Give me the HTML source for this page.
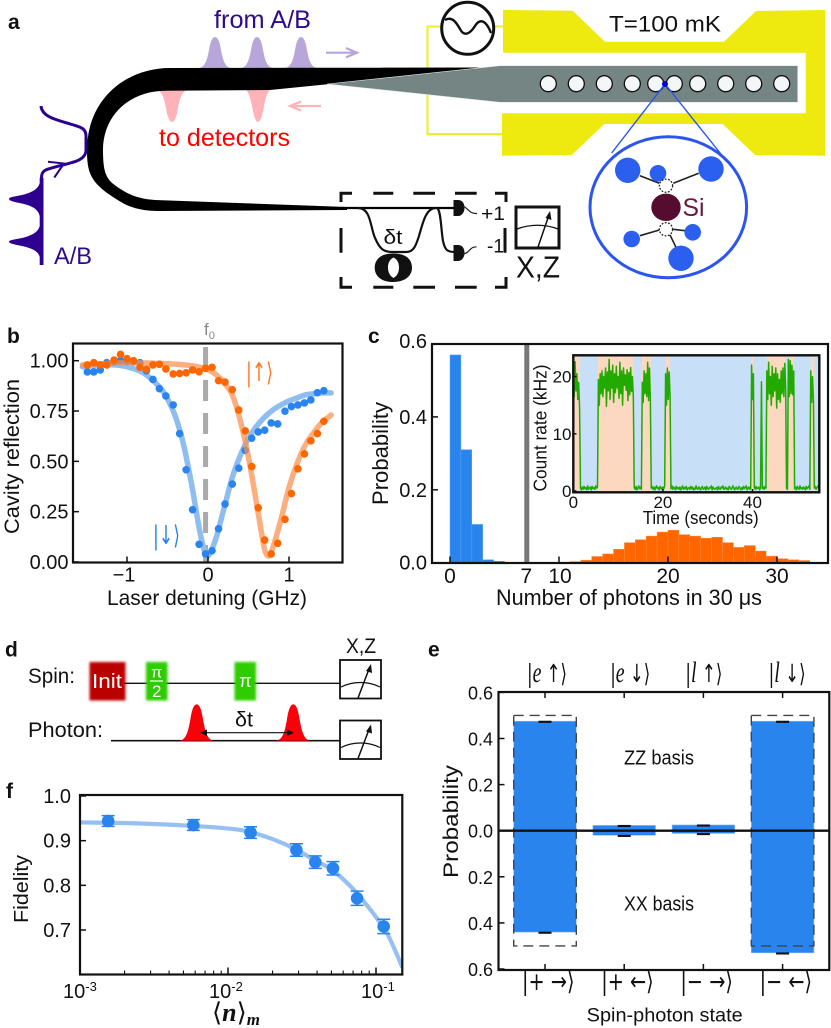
<!DOCTYPE html>
<html>
<head>
<meta charset="utf-8">
<title>Spin-photon figure</title>
<style>
html,body{margin:0;padding:0;background:#fff}
svg{display:block}
text{font-family:"Liberation Sans","DejaVu Sans",sans-serif;fill:#111}
.pl{font-weight:bold;font-size:21px}
.ket{font-family:"DejaVu Sans",sans-serif}
</style>
</head>
<body>
<svg id="fig" xmlns="http://www.w3.org/2000/svg" width="831" height="1028" viewBox="0 0 831 1028">
<defs>
<filter id="glow" x="-30%" y="-30%" width="160%" height="160%"><feGaussianBlur stdDeviation="1.2"/></filter>
<clipPath id="clipB"><rect x="73" y="344" width="269" height="218"/></clipPath>
<clipPath id="clipF"><rect x="80" y="795" width="322" height="179"/></clipPath>
<clipPath id="clipI"><rect x="573.3" y="355.3" width="246" height="137"/></clipPath>
</defs>

<!-- PANEL A -->
<g id="panel-a">
<text class="pl" x="8" y="29">a</text>
<polygon fill="#eeea10" points="503,10 572.7,10.7 605,41.7 724,41.7 756,11 825,10 825,155.7 755,155 722.7,124 604.3,124 571.7,155 502,155.7 502,113.3 805.7,113.3 805.7,52.7 503,52.7"/>
<path d="M503,26.5 H427.5 V134 H502" fill="none" stroke="#eeee22" stroke-width="2"/>
<circle cx="467.7" cy="28.3" r="26" fill="#fff" stroke="#111" stroke-width="3"/>
<path d="M445,20 C452,16 456,22 460,29 C464,37 470,34 475,26 C480,18 486,20 491,33" fill="none" stroke="#111" stroke-width="2.4"/>
<path transform="translate(215,68)" fill="#b7a6d9" d="M-17,0 C-10,0 -8,-8 -6,-18 C-4.5,-27 -2.5,-31 0,-31 C2.5,-31 4.5,-27 6,-18 C8,-8 10,0 17,0Z"/>
<path transform="translate(257,68)" fill="#b7a6d9" d="M-17,0 C-10,0 -8,-8 -6,-18 C-4.5,-27 -2.5,-31 0,-31 C2.5,-31 4.5,-27 6,-18 C8,-8 10,0 17,0Z"/>
<path transform="translate(301,68)" fill="#b7a6d9" d="M-17,0 C-10,0 -8,-8 -6,-18 C-4.5,-27 -2.5,-31 0,-31 C2.5,-31 4.5,-27 6,-18 C8,-8 10,0 17,0Z"/>
<path transform="translate(172,90) scale(1,-1)" fill="#ffb3b8" d="M-17,0 C-10,0 -8,-8 -6,-18 C-4.5,-27 -2.5,-32 0,-32 C2.5,-32 4.5,-27 6,-18 C8,-8 10,0 17,0Z"/>
<path transform="translate(258,88) scale(1,-1)" fill="#ffb3b8" d="M-17,0 C-10,0 -8,-8 -6,-18 C-4.5,-27 -2.5,-34 0,-34 C2.5,-34 4.5,-27 6,-18 C8,-8 10,0 17,0Z"/>
<path fill="#000" d="M490,67.5 L170,68 C125,68 87,100 87,150 C87,172 90,182 113,197 C125,205 135,211 160,211 L347,210 L347,207 L155,200 C140,199 128,195 116,186 C106,179 103,172 103,150 C103,115 130,91 165,90.7 L270,90 L330,84 Z"/>
<path d="M340,208 H455" stroke="#000" stroke-width="2.2" fill="none"/>
<polygon fill="#748584" stroke="#dfe6e6" stroke-width="0.6" points="327,84 500,65.7 797.7,65.7 797.7,102.3 500,102.3"/>
<g fill="#f4f7f7" stroke="#111" stroke-width="1.3">
<circle cx="548.3" cy="83.7" r="8"/><circle cx="576.3" cy="83.7" r="8"/><circle cx="604.3" cy="83.7" r="8"/><circle cx="632.3" cy="83.7" r="8"/><circle cx="655.7" cy="83.7" r="8"/><circle cx="674.3" cy="83.7" r="8"/><circle cx="697.7" cy="83.7" r="8"/><circle cx="725.7" cy="83.7" r="8"/><circle cx="753.7" cy="83.7" r="8"/><circle cx="781.7" cy="83.7" r="8"/>
</g>
<path d="M611.7,153 L665,84 L721.7,155" fill="none" stroke="#2b55ee" stroke-width="1.4"/>
<circle cx="665" cy="84" r="3" fill="#0000e0"/>
<ellipse cx="668.3" cy="207.3" rx="78.3" ry="70.5" fill="#fff" stroke="#2b55ee" stroke-width="3"/>
<path d="M640,175.7 L659.3,183.3 M698.7,173.3 L673.3,183.3 M640,235.7 L659.3,230 M685,230.7 L673.3,229.3 M670,235 L676,247.3" stroke="#222" stroke-width="1.6" fill="none"/>
<g fill="#2a5ff0">
<circle cx="627.7" cy="170.3" r="12.7"/><circle cx="711" cy="169" r="12.7"/><circle cx="658" cy="173.3" r="8.3"/><circle cx="631.7" cy="239" r="8.3"/><circle cx="692.7" cy="232.3" r="8.3"/><circle cx="681" cy="258.3" r="12.7"/>
</g>
<g fill="#fff" stroke="#222" stroke-width="1.3" stroke-dasharray="1.8,1.5">
<circle cx="666" cy="185.7" r="6.6"/><circle cx="666" cy="229.3" r="6.6"/>
</g>
<ellipse cx="666" cy="207.3" rx="14.7" ry="13.7" fill="#560c2e"/>
<text x="682.5" y="216" font-size="25" style="fill:#6a1a3a" textLength="22" lengthAdjust="spacingAndGlyphs">Si</text>
<text x="609" y="31.7" font-size="22" textLength="112" lengthAdjust="spacingAndGlyphs">T=100 mK</text>
<text x="214" y="28" font-size="25" style="fill:#2e0a8c" textLength="97" lengthAdjust="spacingAndGlyphs">from A/B</text>
<text x="159" y="146" font-size="25" style="fill:#ff0000" textLength="131" lengthAdjust="spacingAndGlyphs">to detectors</text>
<text x="54" y="264" font-size="24" style="fill:#2e0a8c" textLength="38" lengthAdjust="spacingAndGlyphs">A/B</text>
<path d="M326,52.7 H356 M346,48 L357,52.7 L346,57.3" fill="none" stroke="#b7a6d9" stroke-width="2.2"/>
<path d="M321,106 H291 M301,101.5 L290,106 L301,110.5" fill="none" stroke="#ffb3b8" stroke-width="2.2"/>
<path fill="#2e0090" d="M43.5,178 L39.7,178 L39.7,183 C38,190 30,193 22,195 C15,196.5 9,197 9,199 C9,201 15,202 22,203.5 C30,205.5 38,208 39.7,216 L39.7,226 C38,233 30,236 22,238 C15,239.5 9,240 9,241.7 C9,243.5 15,244.5 22,246 C30,248 38,250 39.7,257 L39.7,265 L43.5,265 Z"/>
<path d="M41.5,180 C41,172 44,170 50,168.5 C58,166 66,164.5 72,162.5 C80,160.5 86,157 86,150 L86,136 C86,128 80,127 72,124.5 C60,120.5 42,118 41,106" fill="none" stroke="#2e0090" stroke-width="3"/>
<path d="M48,161.7 L64,163.5 L54.3,177.5" fill="none" stroke="#2e0090" stroke-width="2"/>
<path fill="none" stroke="#111" stroke-width="3" d="M341,202 V193.3 H352 M373.3,193.3 H393.3 M413.3,193.3 H435 M455,193.3 H476.7 M495,193.3 H506 V202 M341,228 V252.7 M341,277 V287.3 H352 M373.3,287.3 H393.3 M413.3,287.3 H435 M455,287.3 H476.7 M495,287.3 H506 V277 M505,228 V252.7"/>
<path fill="none" stroke="#111" stroke-width="2.2" d="M358,208 C372,208 370,230 376,240 C380,249 384,252 392,252 H406 C414,252 416,245 419,236 C423,222 426,208 436,208 M437,208 C441,210 441,230 443,241 C445,250 447,252 455,252"/>
<path fill="#111" fill-rule="evenodd" d="M393.3,253.5 C407,253.5 412,260 412,267.8 C412,276 405,282 393.3,282 C381,282 374.7,276 374.7,267.8 C374.7,260 380,253.5 393.3,253.5 Z M393.5,257.5 C389.5,259.5 388,263 388,267.5 C388,272.5 390,276 393.5,278 C397,276 399,272.5 399,267.5 C399,263 397.5,259.5 393.5,257.5 Z"/>
<text x="383.5" y="244" font-size="20" textLength="19" lengthAdjust="spacingAndGlyphs">δt</text>
<path fill="#111" d="M453.5,200 H458 C464,200 464.5,206 464.5,208 C464.5,212 462,216 458,216 H453.5 Z"/>
<path fill="#111" d="M453.5,245 H458 C464,245 464.5,251 464.5,253 C464.5,257 462,261 458,261 H453.5 Z"/>
<path fill="none" stroke="#222" stroke-width="1.2" d="M463,206 C468,208 469,214 477,213.5 M463,254 C469,254 470,246 476.5,247"/>
<text x="481" y="220" font-size="19" textLength="24" lengthAdjust="spacingAndGlyphs">+1</text>
<text x="487" y="252.5" font-size="19" textLength="17" lengthAdjust="spacingAndGlyphs">-1</text>
<g fill="none" stroke="#111">
<rect x="516" y="207" width="43" height="41" stroke-width="3"/>
<path d="M517,229 C530,224 545,224 558,229" stroke-width="1.3"/>
<path d="M538,247 L549,215" stroke-width="1.5"/>
<path d="M550,211 L551.5,220 L545.5,218 Z" fill="#111" stroke="none"/>
</g>
<text x="516" y="277.7" font-size="31" textLength="44" lengthAdjust="spacingAndGlyphs">X,Z</text>
</g>

<!-- PANEL B -->
<g id="panel-b">
<text class="pl" x="7" y="343">b</text>
<text x="204" y="335" font-size="17" style="fill:#888">f<tspan font-size="11" dy="4">0</tspan></text>
<text x="107" y="605" font-size="21" textLength="200" lengthAdjust="spacingAndGlyphs">Laser detuning (GHz)</text>
<text transform="translate(19,534) rotate(-90)" font-size="21" textLength="155" lengthAdjust="spacingAndGlyphs">Cavity reflection</text>
<text class="ket" x="153" y="544" font-size="26" style="fill:#2a84ee" textLength="27" lengthAdjust="spacingAndGlyphs">|↓⟩</text>
<text class="ket" x="246" y="381" font-size="26" style="fill:#ff7a22" textLength="27" lengthAdjust="spacingAndGlyphs">|↑⟩</text>
</g>

<!-- PANEL C -->
<g id="panel-c">
<text class="pl" x="368" y="343">c</text>
<text x="496" y="605" font-size="22" textLength="266" lengthAdjust="spacingAndGlyphs">Number of photons in 30 μs</text>
<text transform="translate(388,505) rotate(-90)" font-size="22" textLength="103" lengthAdjust="spacingAndGlyphs">Probability</text>
<text x="642.7" y="524" font-size="18" textLength="116" lengthAdjust="spacingAndGlyphs">Time (seconds)</text>
<text transform="translate(546.7,491.5) rotate(-90)" font-size="18" textLength="127" lengthAdjust="spacingAndGlyphs">Count rate (kHz)</text>
</g>

<!-- PANEL D -->
<g id="panel-d">
<text class="pl" x="5" y="656.7">d</text>
<text x="28" y="683" font-size="21" textLength="47" lengthAdjust="spacingAndGlyphs">Spin:</text>
<text x="28" y="737" font-size="21" textLength="75" lengthAdjust="spacingAndGlyphs">Photon:</text>
<path d="M124,683.3 H340" stroke="#111" stroke-width="1.4"/>
<path d="M111,740.7 H340" stroke="#111" stroke-width="1.6"/>
<rect x="89.5" y="662" width="36" height="38.5" fill="#bb0000" filter="url(#glow)"/>
<text x="92" y="688" font-size="20" style="fill:#fff" textLength="30" lengthAdjust="spacingAndGlyphs">Init</text>
<rect x="146" y="662" width="21.5" height="38.5" fill="#2dcc00" filter="url(#glow)"/>
<text x="156.7" y="677.5" font-size="16" text-anchor="middle" style="fill:#fff">π</text>
<path d="M150,681 H163" stroke="#fff" stroke-width="1.2"/>
<text x="156.7" y="697" font-size="17" text-anchor="middle" style="fill:#fff">2</text>
<rect x="234.5" y="662" width="21.5" height="38.5" fill="#2dcc00" filter="url(#glow)"/>
<text x="245.3" y="687" font-size="18" text-anchor="middle" style="fill:#fff">π</text>
<path transform="translate(196.7,740.7) scale(1.06,1.17)" fill="#fa0008" d="M-17,0 C-10,0 -8,-8 -6,-18 C-4.5,-27 -2.5,-31 0,-31 C2.5,-31 4.5,-27 6,-18 C8,-8 10,0 17,0Z"/>
<path transform="translate(293.3,740.7) scale(1.06,1.17)" fill="#fa0008" d="M-17,0 C-10,0 -8,-8 -6,-18 C-4.5,-27 -2.5,-31 0,-31 C2.5,-31 4.5,-27 6,-18 C8,-8 10,0 17,0Z"/>
<path d="M203,732.7 H291" stroke="#111" stroke-width="1.2"/>
<path d="M200,732.7 L207,729.5 V736 Z M294,732.7 L287,729.5 V736 Z" fill="#111"/>
<text x="235" y="726.7" font-size="21" textLength="18" lengthAdjust="spacingAndGlyphs">δt</text>
<text x="346" y="653" font-size="21" textLength="30" lengthAdjust="spacingAndGlyphs">X,Z</text>
<g fill="none" stroke="#111">
<rect x="340" y="660" width="41" height="38.5" stroke-width="1.8"/>
<path d="M341,687 C353,681 368,681 380,687" stroke-width="1.2"/>
<path d="M358,698 L369,669" stroke-width="1.5"/>
<path d="M371,664 L372,673 L366,671 Z" fill="#111" stroke="none"/>
</g>
<g fill="none" stroke="#111">
<rect x="340" y="720.5" width="41" height="38.5" stroke-width="1.8"/>
<path d="M341,747.5 C353,741.5 368,741.5 380,747.5" stroke-width="1.2"/>
<path d="M358,758.5 L369,729.5" stroke-width="1.5"/>
<path d="M371,724.5 L372,733.5 L366,731.5 Z" fill="#111" stroke="none"/>
</g>
</g>

<!-- PANEL F -->
<g id="panel-f">
<text class="pl" x="6" y="798">f</text>
<text transform="translate(28,923) rotate(-90)" font-size="20" textLength="68" lengthAdjust="spacingAndGlyphs">Fidelity</text>
<text x="212" y="1021" font-size="26" style="font-family:'Liberation Serif','DejaVu Serif',serif">⟨<tspan font-style="italic" font-weight="bold">n</tspan>⟩<tspan font-style="italic" font-weight="bold" font-size="17" dy="4">m</tspan></text>
</g>

<!-- PANEL E -->
<g id="panel-e">
<text class="pl" x="428" y="656.7">e</text>
<text x="586.7" y="1021.7" font-size="19" textLength="156" lengthAdjust="spacingAndGlyphs">Spin-photon state</text>
<text transform="translate(458,878) rotate(-90)" font-size="21" textLength="113" lengthAdjust="spacingAndGlyphs">Probability</text>
<text x="624" y="764.3" font-size="20" textLength="70" lengthAdjust="spacingAndGlyphs">ZZ basis</text>
<text x="624" y="910.7" font-size="20" textLength="70" lengthAdjust="spacingAndGlyphs">XX basis</text>
</g>
</svg>

<script>
/* ---------- Panel b data ---------- */
const detuning = [-1.49,-1.41,-1.33,-1.25,-1.16,-1.08,-1.00,-0.92,-0.84,-0.76,-0.68,-0.60,-0.52,-0.43,-0.35,-0.27,-0.19,-0.11,-0.03,0.05,0.13,0.21,0.30,0.38,0.46,0.54,0.62,0.70,0.78,0.86,0.95,1.03,1.11,1.19,1.27,1.35,1.43];
const reflectionDown = [.944,.944,.954,.990,.995,1.0,.995,.995,.990,.950,.907,.861,.825,.780,.638,.458,.260,.088,.040,.056,.165,.288,.387,.466,.555,.615,.646,.655,.691,.686,.749,.772,.780,.790,.805,.841,.851];
const reflectionUp = [.979,.990,.979,.979,1.003,1.031,1.010,1.0,.967,.957,.979,.982,.959,.934,.937,.940,.954,.945,.962,.967,.901,.894,.856,.755,.651,.474,.269,.109,.040,.093,.212,.340,.463,.537,.602,.638,.699];
const fitDownX = [-1.55,-1.2,-1,-.8,-.6,-.5,-.4,-.3,-.2,-.1,-.03,.02,.1,.2,.3,.4,.5,.6,.7,.8,.9,1,1.1,1.2,1.3,1.4,1.52];
const fitDownY = [.97,.98,.97,.94,.87,.81,.72,.58,.38,.15,.04,.04,.12,.27,.42,.53,.615,.675,.72,.755,.78,.80,.815,.83,.835,.84,.84];
const fitUpX = [-1.55,-1,-.5,-.2,0,.1,.2,.3,.4,.5,.6,.65,.7,.75,.8,.9,1,1.1,1.2,1.3,1.4,1.52];
const fitUpY = [.98,.99,.985,.975,.955,.93,.89,.83,.70,.52,.29,.17,.06,.03,.07,.21,.37,.49,.58,.64,.69,.73];
const bXTicks = [-1,0,1];
const bXLabels = ['−1','0','1'];
const bYTicks = [0,.25,.5,.75,1];
const bYLabels = ['0.00','0.25','0.50','0.75','1.00'];
const f0Detuning = -0.03;

/* ---------- Panel c data ---------- */
const lowCounts = [0,1,2,3,4];
const lowProb = [.57,.31,.105,.008,.004];
const highCounts = [11,12,13,14,15,16,17,18,19,20,21,22,23,24,25,26,27,28,29,30,31,32];
const highProb = [.003,.007,.017,.024,.037,.055,.063,.073,.084,.089,.077,.073,.067,.07,.055,.042,.047,.032,.018,.011,.008,.006];
const cXTicks = [0,10,20,30];
const cXLabelValues = [0,7,10,20,30];
const cXLabels = ['0','7','10','20','30'];
const cYTicks = [0,.2,.4,.6];
const cYLabels = ['0.0','0.2','0.4','0.6'];
const threshold = 7;

/* ---------- Inset data ---------- */
const brightStart = [0,5.5,15.3,20.6,39.7,43.2,48,53.05];
const brightEnd = [1.5,13.4,17.3,21.6,40.3,47.4,49.2,53.8];
const sampleStep = 0.2;
const countRate = [
21.8,16.5,22.6,17.5,20.5,16,19,14.5,
.5,.2,.7,.3,.8,.4,.6,.2,.9,.3,.5,.7,.2,.8,.4,.6,.3,.9,.5,.7,
19.5,15,20.5,17,21,16.5,20,18,21.5,14.8,20.8,17.5,23,16,21,18,22,15.5,20.5,17.2,21.8,18,20,16.2,22.5,17,21,15,21.5,18.5,20.3,17.6,21.2,15.8,20.7,16.8,21.6,17.4,20,16.4,
.6,.3,.8,.2,.5,.9,.4,.7,.3,
19,15.5,21,17,20.5,16.5,22.5,15.8,21.5,16,
.5,.8,.3,.7,.2,.6,.9,.4,.6,.2,.8,.5,.3,.7,.4,.9,
20.5,15,21.5,16,20.8,16.5,
.4,.9,.3,.7,.5,.2,.8,.4,.6,.3,
.7,.2,.5,.9,.3,.6,.4,.8,.2,.5,
.6,.3,.8,.4,.7,.2,.5,.3,.9,.4,
.3,.7,.5,.2,.6,.8,.3,.4,.7,.2,
.8,.4,.3,.6,.5,.9,.2,.7,.4,.3,
.5,.6,.2,.8,.4,.3,.7,.5,.9,.3,
.4,.7,.3,.5,.2,.8,.6,.3,.4,.9,
.6,.2,.5,.7,.3,.4,.8,.5,.2,.6,
.3,.8,.4,.6,.9,.2,.5,.7,.3,.4,
22,16,20.5,
.6,.3,.8,.4,.5,.7,.2,.6,
19.1,
.4,.7,.3,.8,.5,
21,16,22.5,17,20,15,21.8,16.5,20.5,17.5,21.5,14.5,20.5,16,19.5,15.5,21,17,21.5,16.5,22.3,18,
.5,.3,
23,16.5,22.8,17,22,16.8,21,
.4,.7,.2,.8,.5,.3,.9,.4,.6,.3,.7,.5,.2,.8,.4,.6,.9,.3,
21,15.5,20,16,
.5,.8,.3,.6,.9,.4];
const insetXTicks = [0,20,40];
const insetXLabels = ['0','20','40'];
const insetYTicks = [0,10,20];
const insetYLabels = ['0','10','20'];

/* ---------- Panel f data ---------- */
const meanPhotons = [.00155,.00583,.0142,.029,.0389,.0512,.0745,.1127];
const fidelity = [.944,.935,.918,.879,.852,.838,.771,.708];
const fidelityErr = [.012,.012,.013,.014,.014,.015,.016,.016];
const fitPhotons = [.001,.0023,.00583,.0109,.0142,.0202,.029,.0389,.0512,.0745,.1127,.131,.1507];
const fitFidelity = [.941,.939,.933,.926,.919,.903,.880,.855,.833,.782,.705,.663,.616];
const fYTicks = [.7,.8,.9,1.0];
const fYLabels = ['0.7','0.8','0.9','1.0'];
const fMajorTicks = [.001,.01,.1];
const fMajorLabels = ['-3','-2','-1'];
const fMinorTicks = [.002,.003,.004,.005,.006,.007,.008,.009,.02,.03,.04,.05,.06,.07,.08,.09];

/* ---------- Panel e data ---------- */
const topStates = ['|e ↑⟩','|e ↓⟩','|l ↑⟩','|l ↓⟩'];
const bottomStates = ['|+ →⟩','|+ ←⟩','|− →⟩','|− ←⟩'];
const zzProb = [.475,.023,.025,.475];
const xxProb = [.44,.02,.012,.53];
const zzErr = [.002,.002,.002,.002];
const xxErr = [.002,.002,.002,.002];
const idealZZ = [.5,0,0,.5];
const idealXX = [.5,0,0,.5];
const eYTicks = [-.6,-.4,-.2,0,.2,.4,.6];
const eYLabels = ['0.6','0.4','0.2','0.0','0.2','0.4','0.6'];

/* ---------- Helpers ---------- */
const NS = 'http://www.w3.org/2000/svg';
function mk(tag, attrs, parent){
  const e = document.createElementNS(NS, tag);
  for (const k in attrs) e.setAttribute(k, attrs[k]);
  parent.appendChild(e);
  return e;
}
function smooth(p){
  let d = 'M' + p[0][0].toFixed(2) + ',' + p[0][1].toFixed(2);
  for (let i = 0; i < p.length - 1; i++){
    const a = p[Math.max(i-1,0)], b = p[i], c = p[i+1], e = p[Math.min(i+2,p.length-1)];
    const c1x = b[0] + (c[0]-a[0])/6, c1y = b[1] + (c[1]-a[1])/6;
    const c2x = c[0] - (e[0]-b[0])/6, c2y = c[1] - (e[1]-b[1])/6;
    d += ' C' + c1x.toFixed(2) + ',' + c1y.toFixed(2) + ' ' + c2x.toFixed(2) + ',' + c2y.toFixed(2) + ' ' + c[0].toFixed(2) + ',' + c[1].toFixed(2);
  }
  return d;
}
function frame(parent, x, y, w, h, sw){
  const r = mk('rect', {x:x, y:y, width:w, height:h, fill:'none', stroke:'#111', 'stroke-width':sw}, parent);
  
  
  return r;
}
function tick(parent, x1, y1, x2, y2, sw){
  const t = mk('line', {x1:x1, y1:y1, x2:x2, y2:y2, stroke:'#111', 'stroke-width':sw||1.5}, parent);
  
  
  return t;
}
function label(parent, x, y, str, anchor, size){
  const t = mk('text', {x:x, y:y, 'text-anchor':anchor, 'font-size':size}, parent);
  t.textContent = str;
  
  
  return t;
}

/* ---------- Panel b ---------- */
(function(){
  const g = document.getElementById('panel-b');
  const X = v => 208 + 81 * v;
  const Y = v => 562 - 201.3 * v;
  const cl = mk('g', {'clip-path':'url(#clipB)'}, g);
  
  
  const f0 = mk('line', {x1:X(f0Detuning), x2:X(f0Detuning), y1:344, y2:562, stroke:'#aaa', 'stroke-width':5, 'stroke-dasharray':'21,12', 'stroke-dashoffset':'-3'}, cl);
  
  
  const fd = mk('path', {d:smooth(fitDownX.map((v,i)=>[X(v),Y(fitDownY[i])])), fill:'none', stroke:'#8fbdf0', 'stroke-width':5.5, 'stroke-linecap':'round'}, cl);
  
  
  detuning.forEach((v,i)=>{
    const c = mk('circle', {cx:X(v), cy:Y(reflectionDown[i]), r:3.8, fill:'#2a84ee'}, cl);
    
    
  });
  const fu = mk('path', {d:smooth(fitUpX.map((v,i)=>[X(v),Y(fitUpY[i])])), fill:'none', stroke:'#fb8f4e', 'stroke-opacity':.72, 'stroke-width':5.5, 'stroke-linecap':'round'}, cl);
  
  
  detuning.forEach((v,i)=>{
    const c = mk('circle', {cx:X(v), cy:Y(reflectionUp[i]), r:3.8, fill:'#ff6600'}, cl);
    
    
  });
  frame(g, 73, 343.5, 269.5, 219, 2.2);
  bXTicks.forEach((v,i)=>{
    tick(g, X(v), 562, X(v), 556.5);
    label(g, X(v) - (v<0?3:0), 581.7, bXLabels[i], 'middle', 20);
  });
  bYTicks.forEach((v,i)=>{
    tick(g, 73, Y(v), 79, Y(v));
    label(g, 68.5, Y(v)+7, bYLabels[i], 'end', 20);
  });
})();

/* ---------- Panel c ---------- */
(function(){
  const g = document.getElementById('panel-c');
  const X = v => 450 + 10.9 * v;
  const Y = v => 562.7 - 364.5 * v;
  lowCounts.forEach((v,i)=>{
    const r = mk('rect', {x:X(v), y:Y(lowProb[i]), width:10.9, height:Y(0)-Y(lowProb[i]), fill:'#2a84ee', stroke:'#5ba2f2', 'stroke-width':.5}, g);
    
    
  });
  highCounts.forEach((v,i)=>{
    const r = mk('rect', {x:X(v), y:Y(highProb[i]), width:10.9, height:Y(0)-Y(highProb[i]), fill:'#ff6600', stroke:'#ff8a3c', 'stroke-width':.5}, g);
    
    
  });
  const th = mk('line', {x1:X(threshold)+.5, x2:X(threshold)+.5, y1:344, y2:562, stroke:'#777', 'stroke-width':5}, g);
  
  
  frame(g, 432, 344, 396, 219, 2.2);
  cXTicks.forEach(v=>{ tick(g, X(v), 562.5, X(v), 556.5); });
  cXLabelValues.forEach((v,i)=>{ label(g, X(v) + (v===10?1:0), 583, cXLabels[i], 'middle', 21); });
  cYTicks.forEach((v,i)=>{
    tick(g, 432, Y(v), 438, Y(v));
    label(g, 427, Y(v)+ (v===.6?4:7), cYLabels[i], 'end', 20);
  });

  /* inset */
  const iX = v => 573.3 + 4.48 * v;
  const iY = v => 491 - 5.72 * v;
  const ins = mk('g', {'clip-path':'url(#clipI)'}, g);
  
  
  const bg = mk('rect', {x:573.3, y:355.3, width:246, height:137, fill:'#c8dff8'}, ins);
  
  
  brightStart.forEach((s,i)=>{
    const r = mk('rect', {x:iX(s), y:355.3, width:iX(brightEnd[i])-iX(s), height:137, fill:'#fdd8c0'}, ins);
    
    
  });
  const tr = mk('polyline', {points:countRate.map((v,i)=>iX(i*sampleStep).toFixed(2)+','+iY(v).toFixed(2)).join(' '), fill:'none', stroke:'#22aa00', 'stroke-width':1.5, 'stroke-linejoin':'round'}, ins);
  
  
  frame(g, 573.3, 355.3, 246, 137, 2.4);
  insetXTicks.forEach((v,i)=>{
    tick(g, iX(v), 492, iX(v), 489);
    label(g, iX(v), 508, insetXLabels[i], 'middle', 17);
  });
  insetYTicks.forEach((v,i)=>{
    tick(g, 573.3, iY(v), 576.5, iY(v));
    label(g, 571.5, iY(v)+6, insetYLabels[i], 'end', 17);
  });
})();

/* ---------- Panel f ---------- */
(function(){
  const g = document.getElementById('panel-f');
  const X = v => 80 + 148 * (Math.log10(v) + 3);
  const Y = v => 930 - 446.7 * (v - .7);
  const cl = mk('g', {'clip-path':'url(#clipF)'}, g);
  
  
  const fit = mk('path', {d:smooth(fitPhotons.map((v,i)=>[X(v),Y(fitFidelity[i])])), fill:'none', stroke:'#96c0f2', 'stroke-width':4.2}, cl);
  
  
  meanPhotons.forEach((v,i)=>{
    const x = X(v), y = Y(fidelity[i]), e = fidelityErr[i];
    const eb = mk('path', {d:'M'+(x-6.5)+','+Y(fidelity[i]+e)+' H'+(x+6.5)+' M'+x+','+Y(fidelity[i]+e)+' V'+Y(fidelity[i]-e)+' M'+(x-6.5)+','+Y(fidelity[i]-e)+' H'+(x+6.5), stroke:'#2a84ee', 'stroke-width':1.5, fill:'none'}, cl);
    
    
    const c = mk('circle', {cx:x, cy:y, r:6.3, fill:'#2a84ee'}, cl);
    
    
  });
  frame(g, 80, 795, 322.3, 179.5, 2.2);
  fMajorTicks.forEach((v,i)=>{
    tick(g, X(v), 974, X(v), 967.5);
    const t = label(g, X(v) - 17 + (i===0?0:(i===1?-2:2)), 998, '10', 'start', 20);
    const s = mk('tspan', {'font-size':13, dy:-7}, t);
    s.textContent = fMajorLabels[i];
  });
  fMinorTicks.forEach(v=>{ tick(g, X(v), 974, X(v), 970.5, 1.1); });
  fYTicks.forEach((v,i)=>{
    tick(g, 80, Y(v), 86, Y(v));
    label(g, 71, Y(v)+7, fYLabels[i], 'end', 20);
  });
})();

/* ---------- Panel e ---------- */
(function(){
  const g = document.getElementById('panel-e');
  const X = v => 545 + 79.2 * v;
  const Y = v => 830.7 - 230.5 * v;
  const half = 31.3;
  [0,1,2,3].forEach(i=>{
    const x = X(i) - half;
    const up = mk('rect', {x:x, y:Y(zzProb[i]), width:half*2, height:Y(0)-Y(zzProb[i]), fill:'#2a84ee', stroke:'#8fbdf0', 'stroke-width':.6}, g);
    
    
    const dn = mk('rect', {x:x, y:Y(0), width:half*2, height:Y(-xxProb[i])-Y(0), fill:'#2a84ee', stroke:'#8fbdf0', 'stroke-width':.6}, g);
    
    
    if (idealZZ[i] > 0){
      const d = mk('rect', {x:x, y:Y(idealZZ[i]), width:half*2, height:Y(-idealXX[i])-Y(idealZZ[i]), fill:'none', stroke:'#444', 'stroke-width':1.4, 'stroke-dasharray':'10,6'}, g);
      
      
    }
    const c1 = mk('rect', {x:X(i)-6.5, y:Y(zzProb[i]+zzErr[i]), width:13, height:Y(zzProb[i]-zzErr[i])-Y(zzProb[i]+zzErr[i])+1.2, fill:'#111'}, g);
    
    
    const c2 = mk('rect', {x:X(i)-6.5, y:Y(-xxProb[i]+xxErr[i]), width:13, height:Y(-xxProb[i]-xxErr[i])-Y(-xxProb[i]+xxErr[i])+1.2, fill:'#111'}, g);
    
    
    tick(g, X(i), 692, X(i), 698);
    tick(g, X(i), 970, X(i), 964);
    const tl = mk('text', {x:X(i)-20+(i%2?6:2), y:682, 'font-size':25, textLength:(i<2?40:37), lengthAdjust:'spacingAndGlyphs', 'class':'ket'}, g);
    tl.innerHTML = topStates[i].replace(/[el]/, '<tspan font-style="italic" font-size="30" style="font-family:\'Liberation Serif\',serif">$&</tspan>');
    
    
    const bl = mk('text', {x:X(i)-23, y:990, 'font-size':25, textLength:52.5, lengthAdjust:'spacingAndGlyphs', 'class':'ket'}, g);
    bl.textContent = bottomStates[i];
    
    
  });
  const z = mk('line', {x1:498.5, x2:829, y1:Y(0), y2:Y(0), stroke:'#111', 'stroke-width':2.4}, g);
  
  
  frame(g, 498.5, 692, 330.8, 278, 2.2);
  eYTicks.forEach((v,i)=>{
    tick(g, 498.5, Y(v), 504.5, Y(v));
    label(g, 493, Y(v)+7, eYLabels[i], 'end', 18);
  });
})();
</script>
</body>
</html>
